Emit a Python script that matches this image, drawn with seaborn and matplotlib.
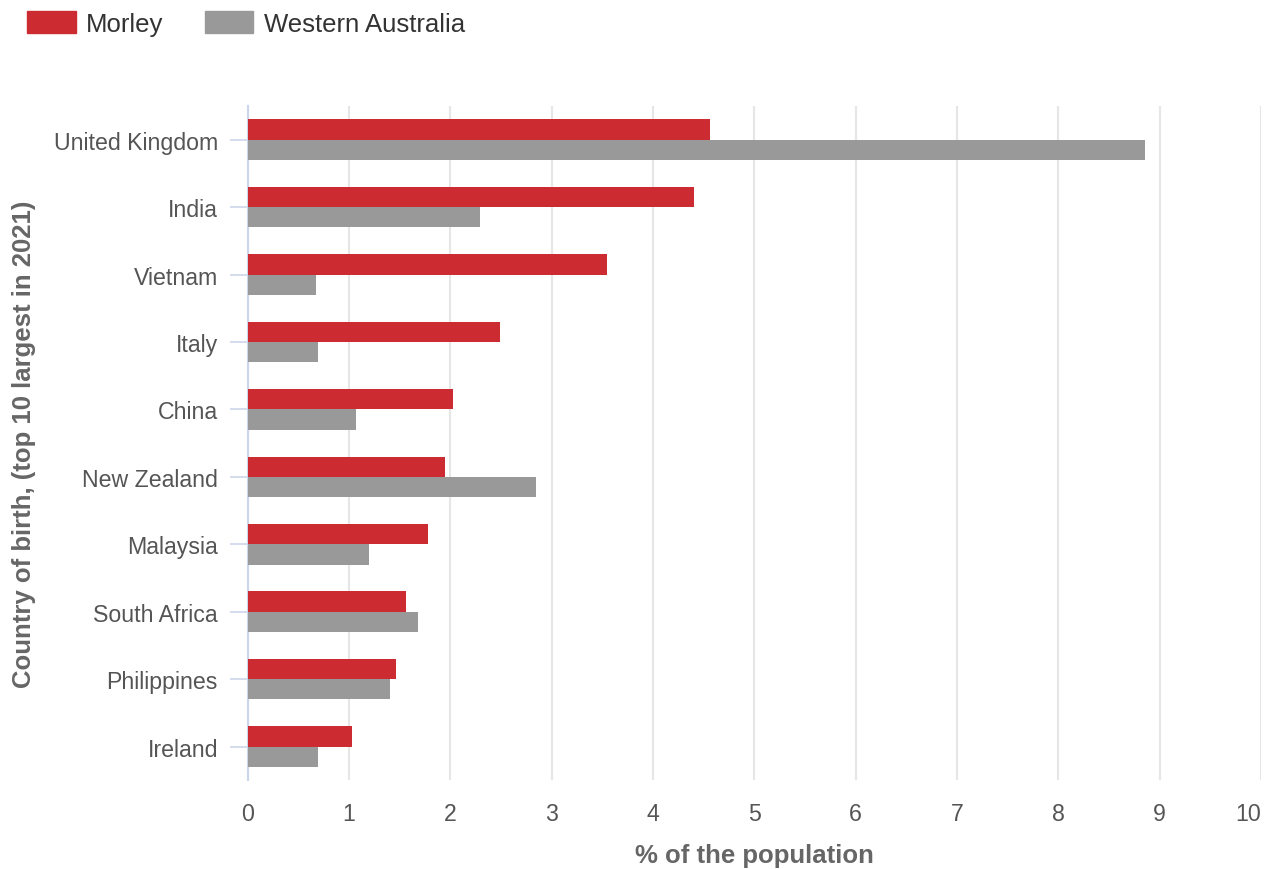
import pandas as pd
import seaborn as sns
import matplotlib.pyplot as plt

# values
countries = ["United Kingdom", "India", "Vietnam", "Italy", "China",
             "New Zealand", "Malaysia", "South Africa", "Philippines", "Ireland"]
morley = [4.56, 4.40, 3.55, 2.49, 2.03, 1.95, 1.78, 1.56, 1.46, 1.03]
western_australia = [8.86, 2.29, 0.67, 0.69, 1.07, 2.84, 1.20, 1.68, 1.40, 0.69]
series_names = ["Morley", "Western Australia"]
x_ticks = list(range(0, 11))

df = pd.DataFrame({
    "Country": countries * 2,
    "Value": morley + western_australia,
    "Series": [series_names[0]] * len(countries) + [series_names[1]] * len(countries),
})

sns.set_style("white")
plt.rcParams["font.family"] = ["Liberation Sans", "DejaVu Sans"]

fig = plt.figure(figsize=(12.71, 8.70), dpi=100)
ax = fig.add_axes([0.195, 0.102, 0.797, 0.775])

sns.barplot(data=df, y="Country", x="Value", hue="Series", orient="h",
            palette=["#cc2b32", "#999999"], width=0.6, saturation=1,
            order=countries, hue_order=series_names, ax=ax, zorder=3,
            linewidth=0, edgecolor="none")

ax.set_xlim(0, 10)
ax.set_xticks(x_ticks)
ax.set_ylim(len(countries) - 0.5, -0.5)
ax.grid(axis="x", color="#e6e6e6", linewidth=1.5, zorder=0)
ax.set_axisbelow(True)

for s in ["top", "right", "bottom"]:
    ax.spines[s].set_visible(False)
ax.spines["left"].set_color("#ccd6eb")
ax.spines["left"].set_linewidth(1.5)

ax.tick_params(axis="y", left=True, length=13, width=1.2, color="#ccd6eb",
               labelsize=16.7, labelcolor="#555555", pad=8.5)
ax.tick_params(axis="x", bottom=False, length=0, labelsize=16.7,
               labelcolor="#555555", pad=15.5)
# last x label sits inside the plot edge, like the original
ax.get_xticklabels()[-1].set_horizontalalignment("right")

ax.set_xlabel("% of the population", fontsize=18.5, fontweight="bold",
              color="#666666", labelpad=13)
ax.set_ylabel("Country of birth, (top 10 largest in 2021)", fontsize=18.5,
              fontweight="bold", color="#666666", labelpad=13)

ax.legend_.remove()
handles = [plt.Rectangle((0, 0), 1, 1, color=c) for c in ["#cc2b32", "#999999"]]
fig.legend(handles, series_names, loc="upper left", bbox_to_anchor=(0.003, 1.013),
           ncol=2, frameon=False, fontsize=18.5, handlelength=1.9, handleheight=0.95,
           columnspacing=1.6, handletextpad=0.4, labelcolor="#333333")

fig.savefig("out.png", dpi=100)
